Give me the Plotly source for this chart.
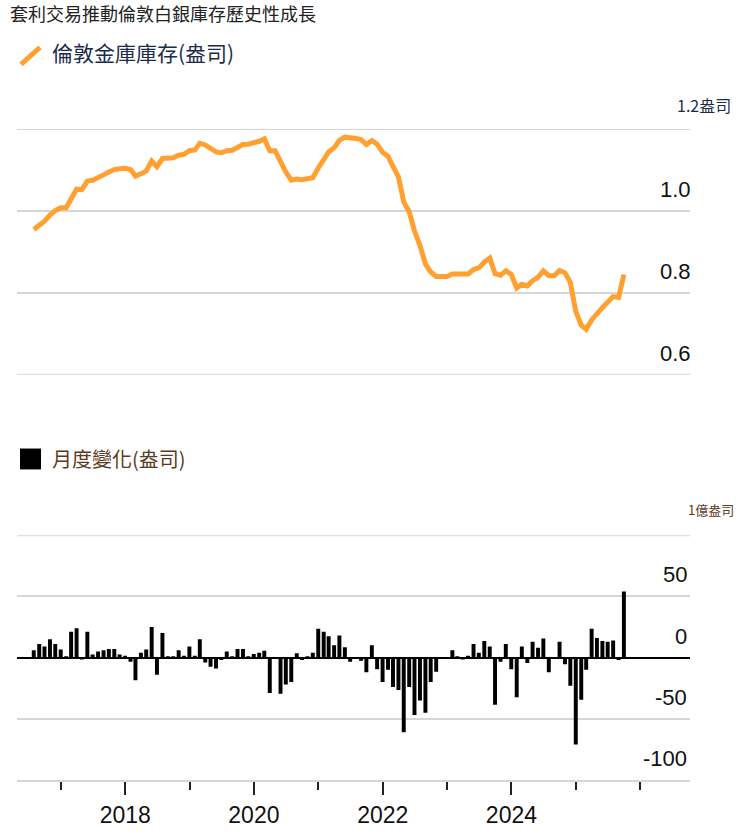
import pandas as pd
import plotly.graph_objects as go
from plotly.subplots import make_subplots

# ---------------- data ----------------
start_month = "2016-07-31"
end_month = "2025-09-30"
months = pd.date_range(start_month, end_month, freq="ME")

# London vault silver holdings (billion oz)
holdings = [
    0.955, 0.966, 0.975, 0.990, 1.001, 1.008, 1.008, 1.029, 1.053, 1.052,
    1.073, 1.075, 1.080, 1.088, 1.095, 1.101, 1.103, 1.104, 1.101, 1.085,
    1.091, 1.097, 1.122, 1.108, 1.128, 1.129, 1.130, 1.136, 1.138, 1.147,
    1.149, 1.165, 1.161, 1.153, 1.144, 1.142, 1.147, 1.148, 1.155, 1.162,
    1.163, 1.166, 1.170, 1.176, 1.147, 1.147, 1.117, 1.095, 1.075, 1.078,
    1.076, 1.077, 1.081, 1.105, 1.126, 1.144, 1.154, 1.172, 1.180, 1.177,
    1.177, 1.174, 1.162, 1.172, 1.163, 1.143, 1.133, 1.109, 1.083, 1.022,
    0.998, 0.951, 0.916, 0.871, 0.851, 0.840, 0.840, 0.840, 0.846, 0.846,
    0.845, 0.846, 0.857, 0.861, 0.875, 0.885, 0.847, 0.843, 0.854, 0.845,
    0.812, 0.821, 0.817, 0.830, 0.838, 0.854, 0.842, 0.842, 0.855, 0.849,
    0.826, 0.755, 0.721, 0.711, 0.734, 0.750, 0.764, 0.777, 0.791, 0.789,
    0.845,
]

# Monthly change (million oz)
monthly_change = [
    6, 11, 9, 15, 11, 6.5, 0.5, 21, 24, -1.5,
    21, 2.5, 5, 6, 7, 7, 2.5, 1.5, -3.5, -18.6,
    4, 6.5, 25, -14, 20, 1, 0.5, 6, 1.5, 9,
    1.5, 15, -4, -7.5, -9, -2, 5, 1, 7, 7,
    1, 3, 4, 5.5, -29, 0, -29.5, -22, -20, 3.5,
    -2, 1, 4, 23.5, 21, 17.5, 10, 18, 8.5, -3.5,
    0, -2.5, -12, 10, -9.5, -20, -10, -24, -26.5, -61,
    -24, -47, -35, -45, -20, -11.5, 0, 0, 6, 0.5,
    -1.5, 1.5, 11, 4, 13.5, 9, -38.5, -3.5, 11, -9.5,
    -32.5, 9, -4.5, 13, 8, 15.5, -12, 0, 13, -5.5,
    -23, -71, -34.5, -10, 23.5, 16, 13.5, 13, 14, -2,
    54,
]

top_ticks = [1.0, 0.8, 0.6]
top_tick_text = ["1.0", "0.8", "0.6"]
top_unit_tick = 1.2
top_unit_text = "1.2盎司"
bottom_ticks = [50, 0, -50, -100]
bottom_tick_text = ["50", "0", "-50", "-100"]
bottom_unit_tick = 100
bottom_unit_text = "1億盎司"
year_ticks = ["2018-01-01", "2020-01-01", "2022-01-01", "2024-01-01"]
year_text = ["2018", "2020", "2022", "2024"]

title_text = "套利交易推動倫敦白銀庫存歷史性成長"
line_name = "倫敦金庫庫存(盎司)"
bar_name = "月度變化(盎司)"

# ---------------- figure ----------------
W, H = 740, 840
L, R, T, B = 17, 50, 129, 57
PW, PH = W - L - R, H - T - B

def px_x(px):
    return (px - L) / PW

def px_y(py):
    return (H - B - py) / PH

ORANGE = "#ffa030"
NAVY = "#1c2b4a"
BROWN = "#5b3b1e"
GRID = "#d6d6d6"
CJK = "Noto Sans CJK TC"
NUM = "Liberation Sans, Arial"

fig = make_subplots(rows=2, cols=1, shared_xaxes=True)

fig.add_trace(go.Scatter(x=months, y=holdings, mode="lines",
                         line=dict(color=ORANGE, width=5),
                         name=line_name, showlegend=False), row=1, col=1)
fig.add_trace(go.Bar(x=months, y=monthly_change, marker=dict(color="#000000", line=dict(width=0)),
                     name=bar_name, showlegend=False), row=2, col=1)

xr = ["2016-04-27", "2026-10-10"]
fig.update_layout(
    width=W, height=H,
    margin=dict(l=L, r=R, t=T, b=B),
    paper_bgcolor="white", plot_bgcolor="white",
    bargap=0.2,
    font=dict(family=NUM, color="#000"),
    xaxis=dict(domain=[0, 1], range=xr, showticklabels=False, showgrid=False,
               ticks="", zeroline=False, showline=False),
    xaxis2=dict(domain=[0, 1], range=xr, type="date",
                tickvals=year_ticks, ticktext=year_text,
                ticks="outside", ticklen=13, tickwidth=1.5, tickcolor="#222",
                tickfont=dict(family=NUM, size=23, color="#111"),
                showgrid=False, showline=True, linecolor=GRID, linewidth=2,
                minor=dict(ticks="outside", ticklen=8, tickwidth=1.5, tickcolor="#222",
                           dtick="M12", tick0="2017-01-01", showgrid=False),
                zeroline=False),
    yaxis=dict(domain=[px_y(376), 1], range=[0.6, 1.2], tickvals=[1.2] + top_ticks,
               showticklabels=False, showgrid=True, gridcolor=GRID, gridwidth=2,
               zeroline=False, ticks=""),
    yaxis2=dict(domain=[0, px_y(537)], range=[-100, 100],
                tickvals=[bottom_unit_tick] + bottom_ticks,
                showticklabels=False, showgrid=True, gridcolor=GRID, gridwidth=2,
                zeroline=True, zerolinecolor="#000", zerolinewidth=1.8, ticks=""),
    title=dict(text=title_text, x=10 / W, xanchor="left", xref="container",
               y=1 - 15 / H, yanchor="middle", yref="container",
               font=dict(family=CJK, size=18, color="#222")),
)

# edge gridlines (plotly omits gridlines sitting on the range boundary)
for v in [top_unit_tick, top_ticks[-1]]:
    fig.add_shape(type="line", xref="paper", yref="y", x0=0, x1=1, y0=v, y1=v,
                  line=dict(color=GRID, width=2), layer="below")
fig.add_shape(type="line", xref="paper", yref="y2", x0=0, x1=1,
              y0=bottom_unit_tick, y1=bottom_unit_tick,
              line=dict(color=GRID, width=2), layer="below")

ann = []
for v, t in zip(top_ticks, top_tick_text):
    ann.append(dict(x=1, xref="paper", y=v, yref="y", text=t, showarrow=False,
                    xanchor="right", yanchor="bottom", xshift=3, yshift=7,
                    font=dict(family=NUM, size=22, color="#111")))
ann.append(dict(x=px_x(675), xref="paper", y=top_unit_tick, yref="y", text=top_unit_text,
                showarrow=False, xanchor="left", yanchor="bottom", yshift=10,
                font=dict(family=CJK, size=16, color=NAVY)))
for v, t in zip(bottom_ticks, bottom_tick_text):
    ann.append(dict(x=1, xref="paper", y=v, yref="y2", text=t, showarrow=False,
                    xanchor="right", yanchor="bottom", xshift=-1, yshift=7,
                    font=dict(family=NUM, size=22, color="#111")))
ann.append(dict(x=px_x(686), xref="paper", y=bottom_unit_tick, yref="y2", text=bottom_unit_text,
                showarrow=False, xanchor="left", yanchor="bottom", yshift=14,
                font=dict(family=CJK, size=13, color=BROWN)))
# legends
ann.append(dict(x=px_x(50), xref="paper", y=px_y(52), yref="paper", text=line_name,
                showarrow=False, xanchor="left", yanchor="middle",
                font=dict(family=CJK, size=21, color=NAVY)))
ann.append(dict(x=px_x(50), xref="paper", y=px_y(460), yref="paper", text=bar_name,
                showarrow=False, xanchor="left", yanchor="middle",
                font=dict(family=CJK, size=20, color=BROWN)))
fig.update_layout(annotations=ann)

fig.add_shape(type="line", xref="paper", yref="paper",
              x0=px_x(21), y0=px_y(64), x1=px_x(40), y1=px_y(47),
              line=dict(color=ORANGE, width=5))
fig.add_shape(type="rect", xref="paper", yref="paper",
              x0=px_x(20), y0=px_y(471), x1=px_x(41), y1=px_y(450),
              fillcolor="#000", line=dict(width=0))

fig.write_html("out.html", config={"displayModeBar": False},
               post_script="document.body.style.margin='0';document.body.style.padding='0';")
